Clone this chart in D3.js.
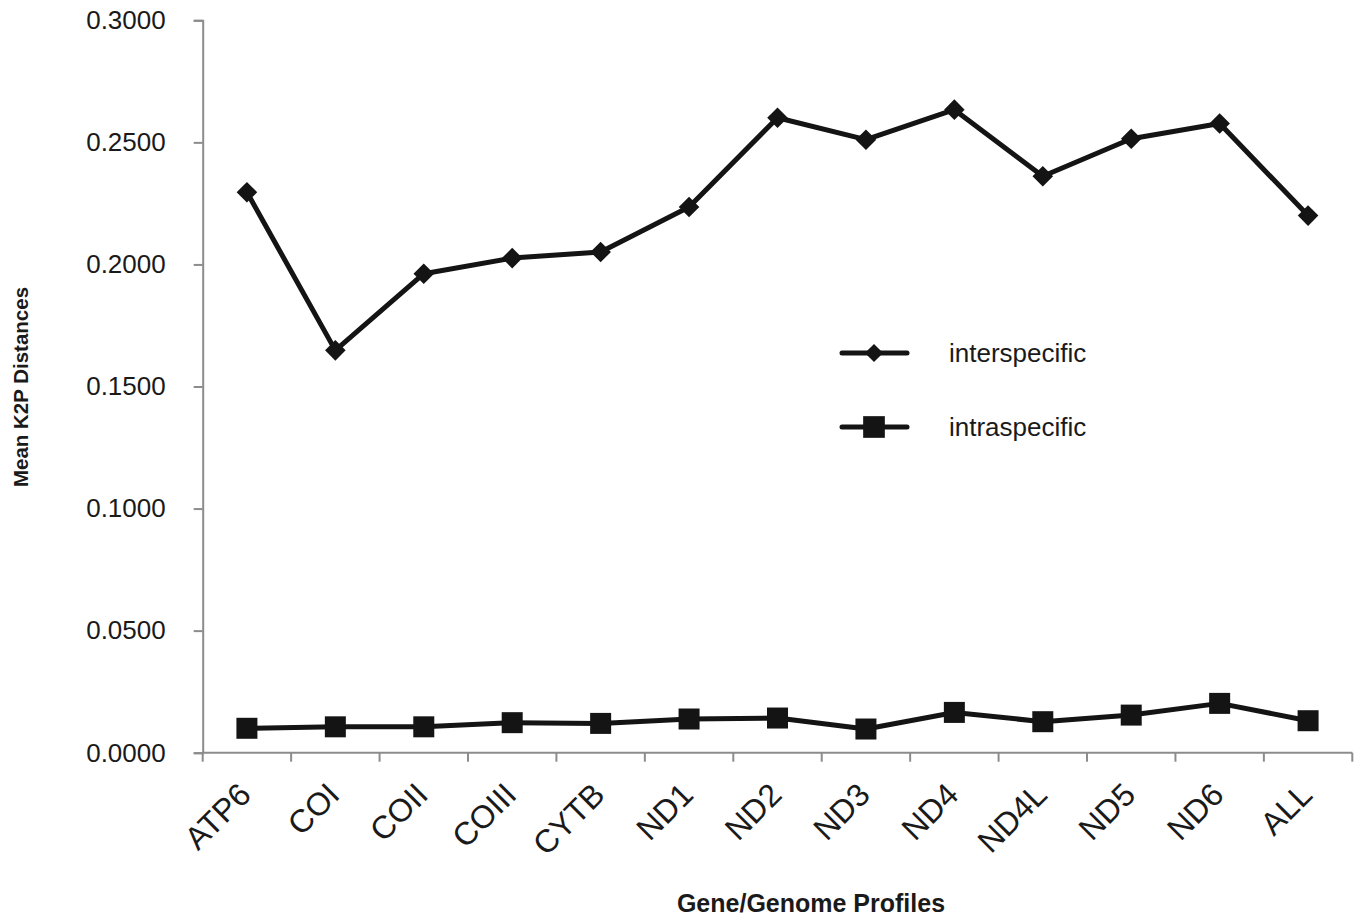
<!DOCTYPE html>
<html>
<head>
<meta charset="utf-8">
<script src="https://cdn.jsdelivr.net/npm/d3@7"></script>
<style>
  body { margin: 0; background: #fff; }
  svg { font-family: Arial, "Liberation Sans", sans-serif; }
</style>
</head>
<body>
<div id="chart"></div>
<script>
// donnees
const genes = ['ATP6', 'COI', 'COII', 'COIII', 'CYTB', 'ND1', 'ND2', 'ND3', 'ND4', 'ND4L', 'ND5', 'ND6', 'ALL'];
const interspecific = [0.2296, 0.1648, 0.1962, 0.2026, 0.2051, 0.2235, 0.2601, 0.2511, 0.2634, 0.2361, 0.2515, 0.2577, 0.2200];
const intraspecific = [0.0100, 0.0106, 0.0106, 0.0123, 0.0120, 0.0138, 0.0142, 0.0097, 0.0165, 0.0127, 0.0154, 0.0202, 0.0131];
const yTicks = [0, 0.05, 0.1, 0.15, 0.2, 0.25, 0.3];

let width = 1355, height = 919;
let plotLeft = 202.7, plotRight = 1352.3, plotTop = 20.3, plotBottom = 752.7;
let ink = '#141414';
let axisColor = '#8c8c8c';
let textColor = '#1a1a1a';

let svg = d3.select('#chart').append('svg')
    .attr('width', width)
    .attr('height', height);

let x = d3.scaleBand().domain(genes).range([plotLeft, plotRight]);
let y = d3.scaleLinear().domain([0, 0.3]).range([plotBottom, plotTop]);

// axe Y
let yAxis = svg.append('g')
    .attr('transform', 'translate(' + plotLeft + ',0)')
    .call(d3.axisLeft(y).tickValues(yTicks).tickFormat(d3.format('.4f')).tickSize(9).tickPadding(28));
yAxis.select('.domain').attr('stroke', axisColor).attr('stroke-width', 2);
yAxis.selectAll('.tick line').attr('stroke', axisColor).attr('stroke-width', 2);
yAxis.selectAll('.tick text')
    .attr('font-size', 26)
    .attr('fill', textColor)
    .attr('font-family', 'Arial, "Liberation Sans", sans-serif');

// axe X
let xAxis = svg.append('g')
    .attr('transform', 'translate(0,' + plotBottom + ')');
xAxis.append('line')
    .attr('x1', plotLeft).attr('x2', plotRight)
    .attr('stroke', axisColor).attr('stroke-width', 2);
let xEdges = genes.map(g => x(g)).concat([plotRight]);
xAxis.selectAll('.xtick')
    .data(xEdges)
    .enter().append('line')
    .attr('x1', d => d).attr('x2', d => d)
    .attr('y1', 0).attr('y2', 9)
    .attr('stroke', axisColor).attr('stroke-width', 2);
xAxis.selectAll('.xlabel')
    .data(genes)
    .enter().append('text')
    .attr('transform', d => 'translate(' + (x(d) + x.bandwidth() / 2 + 6) + ',44) rotate(-45)')
    .attr('text-anchor', 'end')
    .attr('font-size', 32)
    .attr('fill', textColor)
    .text(d => d);

// titres des axes
svg.append('text')
    .attr('transform', 'translate(28,387) rotate(-90)')
    .attr('text-anchor', 'middle')
    .attr('font-size', 20.5)
    .attr('font-weight', 'bold')
    .attr('fill', textColor)
    .text('Mean K2P Distances');

svg.append('text')
    .attr('x', 811)
    .attr('y', 912)
    .attr('text-anchor', 'middle')
    .attr('font-size', 25)
    .attr('font-weight', 'bold')
    .attr('fill', textColor)
    .text('Gene/Genome Profiles');

// series
let cx = d => x(d) + x.bandwidth() / 2;
let line = d3.line()
    .x(d => cx(d.gene))
    .y(d => y(d.value));

let series = [
    { name: 'interspecific', values: interspecific, symbol: d3.symbolDiamond2, size: 270, legendSize: 210 },
    { name: 'intraspecific', values: intraspecific, symbol: d3.symbolSquare, size: 441, legendSize: 470 }
];

series.forEach(function(s) {
    let pts = genes.map((g, i) => ({ gene: g, value: s.values[i] }));
    svg.append('path')
        .datum(pts)
        .attr('fill', 'none')
        .attr('stroke', ink)
        .attr('stroke-width', 5)
        .attr('stroke-linejoin', 'round')
        .attr('d', line);
    svg.selectAll(null)
        .data(pts)
        .enter().append('path')
        .attr('transform', d => 'translate(' + cx(d.gene) + ',' + y(d.value) + ')')
        .attr('d', d3.symbol().type(s.symbol).size(s.size))
        .attr('fill', ink);
});

// legende
let legend = svg.append('g');
let legendY = [353, 427];
series.forEach(function(s, i) {
    let row = legend.append('g').attr('transform', 'translate(0,' + legendY[i] + ')');
    row.append('line')
        .attr('x1', 842).attr('x2', 907)
        .attr('stroke', ink).attr('stroke-width', 5)
        .attr('stroke-linecap', 'round');
    row.append('path')
        .attr('transform', 'translate(874,0)')
        .attr('d', d3.symbol().type(s.symbol).size(s.legendSize))
        .attr('fill', ink);
    row.append('text')
        .attr('x', 949)
        .attr('y', 9)
        .attr('font-size', 26)
        .attr('fill', textColor)
        .text(s.name);
});
</script>
</body>
</html>
